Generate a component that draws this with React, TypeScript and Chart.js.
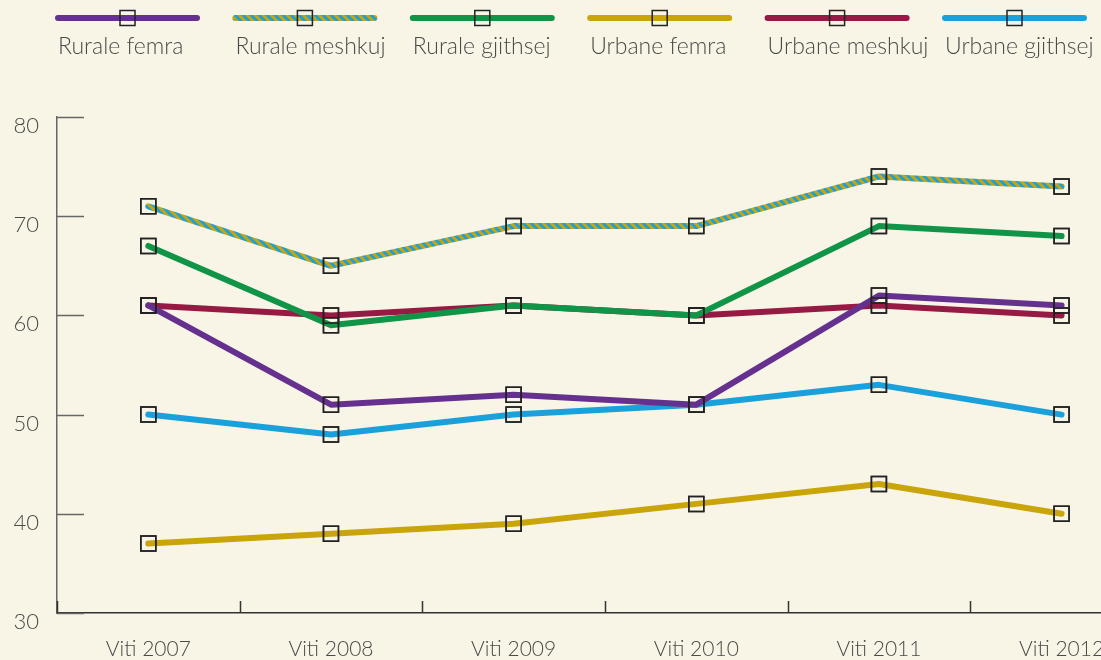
import React, { useEffect, useRef } from "react";
import { Chart, registerables } from "chart.js";

Chart.register(...registerables);

const categories = ["Viti 2007", "Viti 2008", "Viti 2009", "Viti 2010", "Viti 2011", "Viti 2012"];
const seriesNames = ["Rurale femra", "Rurale meshkuj", "Rurale gjithsej", "Urbane femra", "Urbane meshkuj", "Urbane gjithsej"];
const ruraleFemra = [61, 51, 52, 51, 62, 61];
const ruraleMeshkuj = [71, 65, 69, 69, 74, 73];
const ruraleGjithsej = [67, 59, 61, 60, 69, 68];
const urbaneFemra = [37, 38, 39, 41, 43, 40];
const urbaneMeshkuj = [61, 60, 61, 60, 61, 60];
const urbaneGjithsej = [50, 48, 50, 51, 53, 50];
const yTicks = [30, 40, 50, 60, 70, 80];

const BG = "#f8f5e6";
const FONT = "Lato, 'Open Sans', sans-serif";
const TEXT = "#4a4a4a";

function stripePattern(): CanvasPattern | string {
  const s = 8;
  const c = document.createElement("canvas");
  c.width = s;
  c.height = s;
  const g = c.getContext("2d");
  if (!g) return "#1aa0db";
  g.fillStyle = "#1aa0db";
  g.fillRect(0, 0, s, s);
  g.strokeStyle = "#c9a50a";
  g.lineWidth = 2.9;
  for (const k of [-1, 0, 1]) {
    g.beginPath();
    g.moveTo(-2, -2 + k * s);
    g.lineTo(s + 2, s + 2 + k * s);
    g.stroke();
  }
  return g.createPattern(c, "repeat") || "#1aa0db";
}

const bgPlugin = {
  id: "bg",
  beforeDraw(chart: any) {
    const ctx = chart.ctx;
    ctx.save();
    ctx.fillStyle = BG;
    ctx.fillRect(0, 0, chart.width, chart.height);
    ctx.restore();
  },
};

const ticksPlugin = {
  id: "customTicks",
  afterDraw(chart: any) {
    const ctx = chart.ctx;
    const y = chart.scales.y;
    const x = chart.scales.x;
    ctx.save();
    ctx.lineWidth = 1.5;
    ctx.strokeStyle = "#666666";
    y.ticks.forEach((t: any) => {
      const py = Math.round(y.getPixelForValue(t.value)) + 0.5;
      ctx.beginPath();
      ctx.moveTo(y.right, py);
      ctx.lineTo(y.right + 27, py);
      ctx.stroke();
    });
    ctx.strokeStyle = "#333333";
    const n = x.ticks.length;
    for (let i = 0; i < n; i++) {
      const px = Math.round(x.getPixelForValue(i) - (x.getPixelForValue(1) - x.getPixelForValue(0)) / 2) + 0.5;
      ctx.beginPath();
      ctx.moveTo(px, x.top);
      ctx.lineTo(px, x.top - 12);
      ctx.stroke();
    }
    ctx.restore();
  },
};

const pointsOnTop = {
  id: "pointsOnTop",
  afterDatasetsDraw(chart: any) {
    const ctx = chart.ctx;
    chart.data.datasets.forEach((_: any, i: number) => {
      const meta = chart.getDatasetMeta(i);
      meta.data.forEach((p: any) => p.draw(ctx, chart.chartArea));
    });
  },
};

const legendPlugin = {
  id: "topLegend",
  afterDraw(chart: any) {
    const ctx = chart.ctx;
    ctx.save();
    chart.data.datasets.forEach((ds: any, i: number) => {
      const x0 = 58 + i * 177.4;
      const len = 139;
      const ly = 18;
      ctx.lineCap = "round";
      ctx.lineWidth = 6;
      ctx.strokeStyle = ds.borderColor;
      ctx.beginPath();
      ctx.moveTo(x0, ly);
      ctx.lineTo(x0 + len, ly);
      ctx.stroke();
      ctx.lineCap = "butt";
      ctx.lineWidth = 1.5;
      ctx.strokeStyle = "#222222";
      ctx.strokeRect(x0 + len / 2 - 7.5, ly - 7.5, 15, 15);
      ctx.fillStyle = TEXT;
      ctx.font = `300 23px ${FONT}`;
      ctx.textAlign = "left";
      ctx.textBaseline = "middle";
      ctx.fillText(ds.label, x0, 47);
    });
    ctx.restore();
  },
};

export default function App() {
  const ref = useRef<HTMLCanvasElement | null>(null);
  useEffect(() => {
    if (!ref.current) return;
    const stripes = stripePattern();
    const values = [ruraleFemra, ruraleMeshkuj, ruraleGjithsej, urbaneFemra, urbaneMeshkuj, urbaneGjithsej];
    const colors: any[] = ["#66308f", stripes, "#109447", "#c9a50a", "#951a44", "#1aa0db"];
    const chart = new Chart(ref.current, {
      type: "line",
      data: {
        labels: categories,
        datasets: seriesNames.map((name, i) => ({
          label: name,
          data: values[i],
          borderColor: colors[i],
          backgroundColor: "transparent",
          borderWidth: 6,
          borderCapStyle: "round",
          borderJoinStyle: "round",
          tension: 0,
          pointStyle: "rect",
          pointRadius: 10.6,
          pointHoverRadius: 10.6,
          pointBorderWidth: 1.5,
          pointBorderColor: "#222222",
          pointBackgroundColor: "transparent",
        })),
      },
      options: {
        animation: false,
        responsive: true,
        maintainAspectRatio: false,
        layout: { padding: { top: 117, right: 7, left: 0, bottom: 0 } },
        plugins: { legend: { display: false }, tooltip: { enabled: false } },
        scales: {
          x: {
            type: "category",
            offset: true,
            grid: { display: true, drawOnChartArea: false, drawTicks: false, offset: true },
            border: { display: true, color: "#333333", width: 1.5 },
            ticks: { color: TEXT, font: { family: FONT, size: 21, weight: "300" }, padding: 24, maxRotation: 0, autoSkip: false },
            afterFit: (s: any) => { s.height = 47; },
          },
          y: {
            min: 30,
            max: 80,
            afterBuildTicks: (s: any) => { s.ticks = yTicks.map((v) => ({ value: v })); },
            grid: { display: true, drawOnChartArea: false, drawTicks: false },
            border: { display: true, color: "#666666", width: 1.5 },
            ticks: { color: TEXT, font: { family: FONT, size: 22, weight: "300" }, padding: 18, labelOffset: 9 },
            afterFit: (s: any) => { s.width = 57; },
          },
        },
      },
      plugins: [bgPlugin, ticksPlugin, pointsOnTop, legendPlugin],
    });
    return () => chart.destroy();
  }, []);
  return (
    <div style={{ position: "fixed", left: 0, top: 0, width: 1101, height: 660, overflow: "hidden", background: BG }}>
      <div style={{ position: "relative", width: 1165, height: 660 }}>
        <canvas ref={ref} />
      </div>
    </div>
  );
}
